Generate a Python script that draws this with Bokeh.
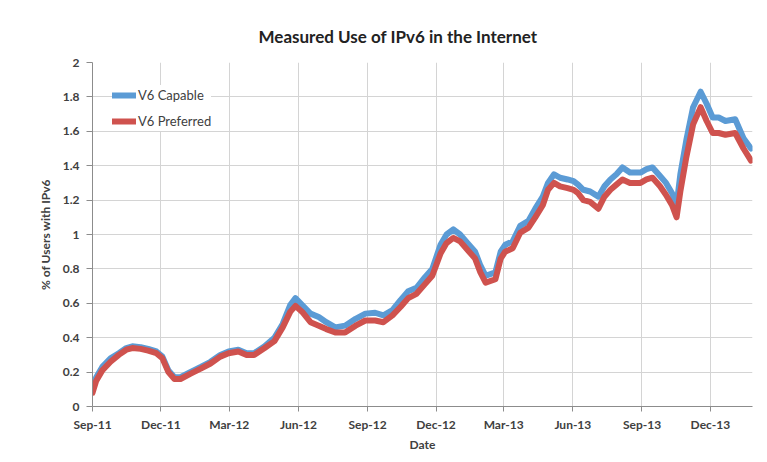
import pandas as pd
from bokeh.plotting import figure
from bokeh.models import (Range1d, FixedTicker, DatetimeTickFormatter, Legend,
                          LegendItem, ColumnDataSource)
from bokeh.embed import file_html
from bokeh.resources import INLINE

# ---------------- data ----------------
start_day = "2011-09-01"
# days since start_day
days = [0, 5, 13, 24, 35, 45, 53, 64, 74, 85, 93, 101, 109, 117, 130, 144, 157, 170,
        181, 194, 205, 215, 229, 242, 253, 263, 270, 279, 290, 301, 311, 323, 336,
        350, 363, 376, 387, 399, 410, 420, 431, 442, 452, 463, 471, 480, 489, 499,
        509, 516, 523, 536, 543, 549, 559, 569, 580, 589, 599, 606, 614, 622, 632,
        640, 646, 653, 662, 673, 681, 689, 697, 705, 715, 729, 737, 745, 755, 763,
        771, 777, 782, 790, 799, 809, 817, 825, 833, 842, 855, 866, 876]
v6_capable = [0.10, 0.17, 0.23, 0.28, 0.31, 0.34, 0.35, 0.345, 0.335, 0.32, 0.29, 0.21,
              0.17, 0.17, 0.20, 0.23, 0.26, 0.30, 0.32, 0.33, 0.31, 0.31, 0.35, 0.40,
              0.48, 0.59, 0.63, 0.59, 0.54, 0.52, 0.49, 0.46, 0.47, 0.51, 0.54, 0.545,
              0.53, 0.56, 0.62, 0.67, 0.69, 0.75, 0.80, 0.94, 1.00, 1.03, 1.00, 0.95,
              0.90, 0.82, 0.76, 0.78, 0.90, 0.94, 0.96, 1.05, 1.08, 1.15, 1.22, 1.30,
              1.35, 1.33, 1.32, 1.31, 1.29, 1.26, 1.25, 1.22, 1.28, 1.32, 1.35, 1.39,
              1.36, 1.36, 1.38, 1.39, 1.34, 1.30, 1.24, 1.17, 1.35, 1.55, 1.74, 1.83,
              1.76, 1.68, 1.68, 1.66, 1.67, 1.56, 1.50]
v6_preferred = [0.08, 0.15, 0.21, 0.26, 0.30, 0.33, 0.34, 0.335, 0.325, 0.31, 0.28, 0.20,
                0.16, 0.16, 0.19, 0.22, 0.25, 0.29, 0.31, 0.32, 0.30, 0.30, 0.34, 0.38,
                0.46, 0.55, 0.585, 0.55, 0.49, 0.47, 0.45, 0.43, 0.43, 0.47, 0.50, 0.50,
                0.49, 0.53, 0.58, 0.63, 0.655, 0.71, 0.76, 0.89, 0.95, 0.98, 0.96, 0.91,
                0.86, 0.78, 0.72, 0.74, 0.86, 0.90, 0.92, 1.01, 1.04, 1.10, 1.17, 1.26,
                1.30, 1.28, 1.27, 1.26, 1.24, 1.20, 1.19, 1.15, 1.22, 1.26, 1.29, 1.32,
                1.30, 1.30, 1.32, 1.33, 1.28, 1.23, 1.17, 1.10, 1.25, 1.45, 1.64, 1.74,
                1.66, 1.59, 1.59, 1.58, 1.59, 1.50, 1.43]
series_names = ["V6 Capable", "V6 Preferred"]
xtick_dates = ["2011-09-01", "2011-12-01", "2012-03-01", "2012-06-01", "2012-09-01",
               "2012-12-01", "2013-03-01", "2013-06-01", "2013-09-01", "2013-12-01"]
ytick_values = [0, 0.2, 0.4, 0.6, 0.8, 1, 1.2, 1.4, 1.6, 1.8, 2]
ytick_labels = ["0", "0.2", "0.4", "0.6", "0.8", "1", "1.2", "1.4", "1.6", "1.8", "2"]
x_end = "2014-01-26"

# ---------------- build ----------------
t0 = pd.Timestamp(start_day)
dates = [t0 + pd.Timedelta(days=d) for d in days]
src = ColumnDataSource(dict(date=dates, cap=v6_capable, pref=v6_preferred))

FONT = "Lato"
TXT = "#404040"
GRID = "#d4d4d4"
AX = "#8c8c8c"

p = figure(width=767, height=462, output_backend="svg", toolbar_location=None,
           x_axis_type="datetime",
           x_range=Range1d(pd.Timestamp(start_day), pd.Timestamp(x_end)),
           y_range=Range1d(0, 2),
           min_border_left=92, min_border_right=15, min_border_top=62,
           min_border_bottom=56)
p.outline_line_color = None
p.background_fill_color = "white"
p.border_fill_color = "white"

p.title.text = "Measured Use of IPv6 in the Internet"
p.title.text_font = FONT
p.title.text_font_size = "17px"
p.title.text_font_style = "bold"
p.title.text_color = "#222222"
p.title.align = "left"
p.title.offset = 166
p.title.standoff = 31

xt = [pd.Timestamp(s).value // 10**6 for s in xtick_dates]
p.xaxis.ticker = FixedTicker(ticks=xt)
fmt = "%b-%y"
p.xaxis.formatter = DatetimeTickFormatter(milliseconds=fmt, seconds=fmt, minsec=fmt,
                                          minutes=fmt, hourmin=fmt, hours=fmt,
                                          days=fmt, months=fmt, years=fmt)
p.yaxis.ticker = FixedTicker(ticks=ytick_values)
p.yaxis.major_label_overrides = {v: l for v, l in zip(ytick_values, ytick_labels)}

for ax in (p.xaxis[0], p.yaxis[0]):
    ax.axis_line_color = AX
    ax.major_tick_line_color = AX
    ax.minor_tick_line_color = None
    ax.major_tick_in = 0
    ax.major_tick_out = 6
    ax.major_label_text_font = FONT
    ax.major_label_text_font_size = "12px"
    ax.major_label_text_font_style = "bold"
    ax.major_label_text_color = TXT
    ax.axis_label_text_font = FONT
    ax.axis_label_text_font_style = "bold"
    ax.axis_label_text_color = TXT

p.xaxis.axis_label = "Date"
p.xaxis.axis_label_text_font_size = "12px"
p.xaxis.major_tick_out = 5
p.xaxis.major_label_standoff = 5
p.xaxis.axis_label_standoff = 2
p.yaxis.axis_label = "% of Users with IPv6"
p.yaxis.axis_label_text_font_size = "12px"
p.yaxis.major_label_standoff = 7
p.yaxis.axis_label_standoff = 7

p.xgrid.grid_line_color = GRID
p.ygrid.grid_line_color = GRID

r1 = p.line("date", "cap", source=src, line_color="#5B9BD5", line_width=6,
            line_join="round", line_cap="round")
r2 = p.line("date", "pref", source=src, line_color="#CF524E", line_width=6,
            line_join="round", line_cap="round")

legend = Legend(items=[LegendItem(label=series_names[0], renderers=[r1]),
                       LegendItem(label=series_names[1], renderers=[r2])],
                location=(20, 275), margin=0, padding=6, spacing=6,
                glyph_width=24, glyph_height=20, label_height=20, label_standoff=2,
                label_text_font=FONT, label_text_font_size="13px",
                label_text_color=TXT, border_line_color=None,
                background_fill_color="white", background_fill_alpha=1.0)
p.add_layout(legend)

open("out.html", "w").write(file_html(p, INLINE))
